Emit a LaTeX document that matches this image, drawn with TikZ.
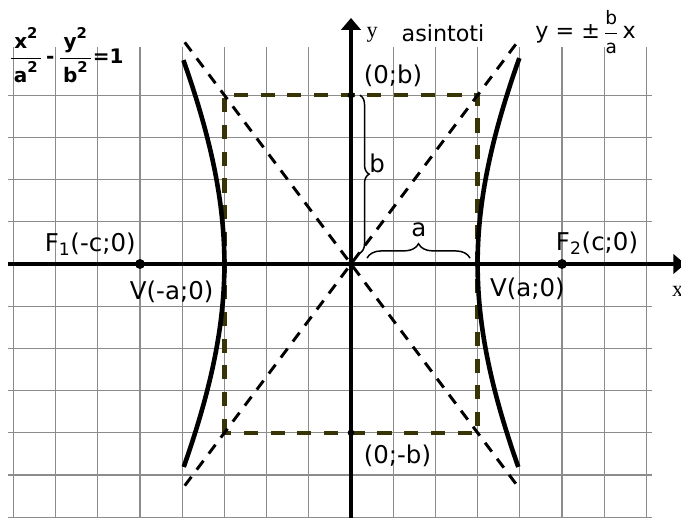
\documentclass[tikz,border=0pt]{standalone}
\usepackage{amsmath}
\usepackage{fontspec}
\setmainfont{DejaVu Sans}
\newfontfamily\serifl{Liberation Serif}
\usetikzlibrary{arrows.meta,decorations.pathreplacing}
\definecolor{gridc}{RGB}{140,140,140}
\definecolor{boxc}{RGB}{55,52,5}
\newcommand{\sqr}{\raisebox{7.2pt}{\fontsize{10}{10}\selectfont 2}}
\newcommand{\fr}[2]{$\genfrac{}{}{0.6pt}{0}{\hbox{\rule[-2pt]{0pt}{1pt}\,#1\,}}{\hbox{\rule{0pt}{13pt}\,#2\,}}$}
\begin{document}
\begin{tikzpicture}[x=1cm,y=1cm,
  gridline/.style={gridc, line width=0.8pt},
  axisline/.style={line width=2.5pt, -{Triangle[length=8pt,width=13pt]}},
  boxline/.style={boxc, line width=2.9pt, dash pattern=on 9.5pt off 8.5pt},
  asym/.style={line width=2pt, dash pattern=on 7.5pt off 6pt},
  hyp/.style={line width=3.1pt},
  lbl/.style={font=\fontsize{16.5}{18}\selectfont, inner sep=0pt},
  axlbl/.style={font=\serifl\fontsize{15}{17}\selectfont, inner sep=0pt},
  bigdot/.style={circle, fill, inner sep=0pt, minimum size=6.7pt},
  smalldot/.style={circle, fill, inner sep=0pt, minimum size=4.5pt},
  bracel/.style={decorate, line width=1pt}]
\useasboundingbox (-8.318,-6.019) rectangle (7.820,6.256);
\fill[white] (-8.318,-6.019) rectangle (7.820,6.256);
% grid
\foreach \i in {-8,...,7} \draw[gridline] (\i,-6.02) -- (\i,5.14);
\foreach \j in {-6,...,-1,1,2,3,4} \draw[gridline] (-8.13,\j) -- (7.13,\j);
% box
\draw[boxline] (-3,-4) rectangle (3,4);
% asymptotes
\coordinate (A1) at (-3.94,-5.253);
\coordinate (A2) at (3.94,5.253);
\coordinate (A3) at (-3.94,5.253);
\coordinate (A4) at (3.94,-5.253);
\draw[asym] (A1) -- (A2);
\draw[asym] (A3) -- (A4);
% axes
\coordinate (xs) at (-8.13,0);
\coordinate (xe) at (7.92,0);
\coordinate (ys) at (0,-6.1);
\coordinate (ye) at (0,5.83);
\draw[axisline] (xs) -- (xe);
\draw[axisline] (ys) -- (ye);
% hyperbola
\draw[hyp] plot[domain=-4.81:4.88, samples=80, smooth] ({3*sqrt(1+\x*\x/31)},\x);
\draw[hyp] plot[domain=-4.81:4.83, samples=80, smooth] ({-3*sqrt(1+\x*\x/31)},\x);
% dots
\node[bigdot] (F1) at (-5,0) {};
\node[bigdot] (F2) at (5,0) {};
\node[smalldot] (V1) at (-3,0) {};
\node[smalldot] (V2) at (3,0) {};
\node[smalldot] (O) at (0,0) {};
\node[smalldot] (B1) at (0,4) {};
\node[smalldot] (B2) at (0,-4) {};
% braces
\coordinate (bb1) at (0.21,4.0);
\coordinate (bb2) at (0.21,0.26);
\draw[bracel, decoration={brace, amplitude=0.22cm}] (bb1) -- (bb2);
\coordinate (ab1) at (0.38,0.14);
\coordinate (ab2) at (2.82,0.14);
\draw[bracel, decoration={brace, amplitude=0.34cm}] (ab1) -- (ab2);
% labels
\node[lbl] (lb) at (0.62,2.39) {b};
\node[lbl] (la) at (1.61,0.81) {a};
\node[lbl] (l0b) at (0.995,4.455) {(0;b)};
\node[lbl] (l0mb) at (1.10,-4.55) {(0;-b)};
\node[lbl] (lF1) at (-6.18,0.47) {F\textsubscript{1}(-c;0)};
\node[lbl] (lF2) at (5.83,0.49) {F\textsubscript{2}(c;0)};
\node[lbl] (lV1) at (-4.25,-0.65) {V(-a;0)};
\node[lbl] (lV2) at (4.18,-0.58) {V(a;0)};
\node[axlbl] (ly) at (0.50,5.43) {y};
\node[axlbl] (lx) at (7.74,-0.66) {x};
\node[font=\fontsize{15}{17}\selectfont, inner sep=0pt] (las) at (2.18,5.47) {asintoti};
\node[font=\fontsize{15}{17}\selectfont, inner sep=0pt] (leq) at (5.56,5.50)
  {y = ±\,$\genfrac{}{}{0.5pt}{0}{\hbox{\fontsize{12.5}{12}\selectfont b}}{\hbox{\fontsize{12.5}{12}\selectfont a}}$\,x};
\node[font=\bfseries\fontsize{13.5}{14}\selectfont, inner sep=0pt] (lform) at (-6.75,4.95)
  {\fr{x\sqr}{a\sqr}\,-\,\fr{y\sqr}{b\sqr}=1};
\end{tikzpicture}
\end{document}
